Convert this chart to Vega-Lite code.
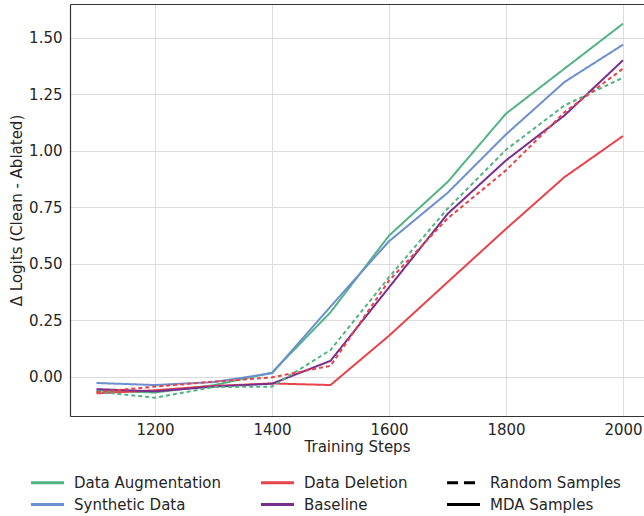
{
  "$schema": "https://vega.github.io/schema/vega-lite/v6.json",
  "width": 574,
  "height": 412,
  "autosize": {"type": "none"},
  "padding": {"left": 70, "top": 4, "right": 0, "bottom": 100},
  "background": "white",
  "config": {
    "view": {"stroke": null},
    "font": "DejaVu Sans",
    "axis": {
      "labelFont": "DejaVu Sans", "labelFontSize": 15, "labelColor": "#262626",
      "titleFont": "DejaVu Sans", "titleFontSize": 15, "titleFontWeight": "normal", "titleColor": "#262626",
      "gridColor": "#dcdcdc", "gridWidth": 1, "domainColor": "#333333", "domainWidth": 1.2, "ticks": false
    },
    "legend": {
      "labelFont": "DejaVu Sans", "labelFontSize": 15, "labelColor": "#262626"
    }
  },
  "data": {"values": [
    {"step": 1100, "value": -0.062, "method": "Data Augmentation", "sample": "MDA Samples"},
    {"step": 1200, "value": -0.070, "method": "Data Augmentation", "sample": "MDA Samples"},
    {"step": 1300, "value": -0.038, "method": "Data Augmentation", "sample": "MDA Samples"},
    {"step": 1400, "value": 0.018, "method": "Data Augmentation", "sample": "MDA Samples"},
    {"step": 1500, "value": 0.285, "method": "Data Augmentation", "sample": "MDA Samples"},
    {"step": 1600, "value": 0.624, "method": "Data Augmentation", "sample": "MDA Samples"},
    {"step": 1700, "value": 0.861, "method": "Data Augmentation", "sample": "MDA Samples"},
    {"step": 1800, "value": 1.164, "method": "Data Augmentation", "sample": "MDA Samples"},
    {"step": 1900, "value": 1.363, "method": "Data Augmentation", "sample": "MDA Samples"},
    {"step": 2000, "value": 1.562, "method": "Data Augmentation", "sample": "MDA Samples"},
    {"step": 1100, "value": -0.028, "method": "Synthetic Data", "sample": "MDA Samples"},
    {"step": 1200, "value": -0.037, "method": "Synthetic Data", "sample": "MDA Samples"},
    {"step": 1300, "value": -0.024, "method": "Synthetic Data", "sample": "MDA Samples"},
    {"step": 1400, "value": 0.015, "method": "Synthetic Data", "sample": "MDA Samples"},
    {"step": 1500, "value": 0.310, "method": "Synthetic Data", "sample": "MDA Samples"},
    {"step": 1600, "value": 0.599, "method": "Synthetic Data", "sample": "MDA Samples"},
    {"step": 1700, "value": 0.813, "method": "Synthetic Data", "sample": "MDA Samples"},
    {"step": 1800, "value": 1.072, "method": "Synthetic Data", "sample": "MDA Samples"},
    {"step": 1900, "value": 1.304, "method": "Synthetic Data", "sample": "MDA Samples"},
    {"step": 2000, "value": 1.469, "method": "Synthetic Data", "sample": "MDA Samples"},
    {"step": 1100, "value": -0.074, "method": "Data Deletion", "sample": "MDA Samples"},
    {"step": 1200, "value": -0.060, "method": "Data Deletion", "sample": "MDA Samples"},
    {"step": 1300, "value": -0.041, "method": "Data Deletion", "sample": "MDA Samples"},
    {"step": 1400, "value": -0.030, "method": "Data Deletion", "sample": "MDA Samples"},
    {"step": 1500, "value": -0.037, "method": "Data Deletion", "sample": "MDA Samples"},
    {"step": 1600, "value": 0.181, "method": "Data Deletion", "sample": "MDA Samples"},
    {"step": 1700, "value": 0.418, "method": "Data Deletion", "sample": "MDA Samples"},
    {"step": 1800, "value": 0.654, "method": "Data Deletion", "sample": "MDA Samples"},
    {"step": 1900, "value": 0.883, "method": "Data Deletion", "sample": "MDA Samples"},
    {"step": 2000, "value": 1.065, "method": "Data Deletion", "sample": "MDA Samples"},
    {"step": 1100, "value": -0.055, "method": "Baseline", "sample": "MDA Samples"},
    {"step": 1200, "value": -0.065, "method": "Baseline", "sample": "MDA Samples"},
    {"step": 1300, "value": -0.044, "method": "Baseline", "sample": "MDA Samples"},
    {"step": 1400, "value": -0.031, "method": "Baseline", "sample": "MDA Samples"},
    {"step": 1500, "value": 0.070, "method": "Baseline", "sample": "MDA Samples"},
    {"step": 1600, "value": 0.395, "method": "Baseline", "sample": "MDA Samples"},
    {"step": 1700, "value": 0.720, "method": "Baseline", "sample": "MDA Samples"},
    {"step": 1800, "value": 0.957, "method": "Baseline", "sample": "MDA Samples"},
    {"step": 1900, "value": 1.156, "method": "Baseline", "sample": "MDA Samples"},
    {"step": 2000, "value": 1.400, "method": "Baseline", "sample": "MDA Samples"},
    {"step": 1100, "value": -0.066, "method": "Data Augmentation", "sample": "Random Samples"},
    {"step": 1200, "value": -0.093, "method": "Data Augmentation", "sample": "Random Samples"},
    {"step": 1300, "value": -0.046, "method": "Data Augmentation", "sample": "Random Samples"},
    {"step": 1400, "value": -0.044, "method": "Data Augmentation", "sample": "Random Samples"},
    {"step": 1500, "value": 0.118, "method": "Data Augmentation", "sample": "Random Samples"},
    {"step": 1600, "value": 0.440, "method": "Data Augmentation", "sample": "Random Samples"},
    {"step": 1700, "value": 0.743, "method": "Data Augmentation", "sample": "Random Samples"},
    {"step": 1800, "value": 1.004, "method": "Data Augmentation", "sample": "Random Samples"},
    {"step": 1900, "value": 1.200, "method": "Data Augmentation", "sample": "Random Samples"},
    {"step": 2000, "value": 1.323, "method": "Data Augmentation", "sample": "Random Samples"},
    {"step": 1100, "value": -0.068, "method": "Data Deletion", "sample": "Random Samples"},
    {"step": 1200, "value": -0.044, "method": "Data Deletion", "sample": "Random Samples"},
    {"step": 1300, "value": -0.022, "method": "Data Deletion", "sample": "Random Samples"},
    {"step": 1400, "value": -0.003, "method": "Data Deletion", "sample": "Random Samples"},
    {"step": 1500, "value": 0.048, "method": "Data Deletion", "sample": "Random Samples"},
    {"step": 1600, "value": 0.425, "method": "Data Deletion", "sample": "Random Samples"},
    {"step": 1700, "value": 0.700, "method": "Data Deletion", "sample": "Random Samples"},
    {"step": 1800, "value": 0.913, "method": "Data Deletion", "sample": "Random Samples"},
    {"step": 1900, "value": 1.170, "method": "Data Deletion", "sample": "Random Samples"},
    {"step": 2000, "value": 1.363, "method": "Data Deletion", "sample": "Random Samples"}
  ]},
  "layer": [
    {
      "mark": {"type": "line", "strokeWidth": 2, "clip": true},
      "encoding": {
        "x": {
          "field": "step", "type": "quantitative",
          "scale": {"domain": [1054.7, 2035.9], "nice": false, "zero": false},
          "axis": {"values": [1200, 1400, 1600, 1800, 2000], "format": "d", "title": "Training Steps", "labelPadding": 6, "titlePadding": 2, "labelFlush": false}
        },
        "y": {
          "field": "value", "type": "quantitative",
          "scale": {"domain": [-0.174, 1.649], "nice": false, "zero": false},
          "axis": {"values": [0, 0.25, 0.5, 0.75, 1.0, 1.25, 1.5], "format": ".2f", "title": "Δ Logits (Clean - Ablated)", "labelPadding": 8, "titlePadding": 4, "labelFlush": false}
        },
        "color": {
          "field": "method", "type": "nominal",
          "scale": {
            "domain": ["Data Augmentation", "Data Deletion", "Random Samples", "Synthetic Data", "Baseline", "MDA Samples"],
            "range": ["#52b484", "#e8424a", "#000000", "#6b8fcf", "#7a2e8c", "#000000"]
          },
          "legend": {
            "title": null, "orient": "none", "legendX": -30, "legendY": 471,
            "direction": "horizontal", "columns": 3, "symbolType": "M-2.75,0H2.75",
            "symbolSize": 144, "symbolStrokeWidth": 3, "columnPadding": 33, "rowPadding": 6, "labelOffset": 19,
            "labelFontSize": 15,
            "encode": {"symbols": {"update": {"strokeDash": {"signal": "datum.value === 'Random Samples' ? [11, 6] : [1, 0]"}}}}
          }
        },
        "strokeDash": {
          "field": "sample", "type": "nominal",
          "scale": {"domain": ["MDA Samples", "Random Samples"], "range": [[1, 0], [4, 3]]},
          "legend": null
        }
      }
    },
    {
      "mark": {"type": "line", "opacity": 0},
      "encoding": {
        "x": {"field": "step", "type": "quantitative", "axis": {"orient": "top", "labels": false, "ticks": false, "grid": false, "domain": true, "title": null}},
        "y": {"field": "value", "type": "quantitative"},
        "detail": {"field": "method", "type": "nominal"}
      }
    }
  ],
  "resolve": {"axis": {"x": "independent"}}
}
